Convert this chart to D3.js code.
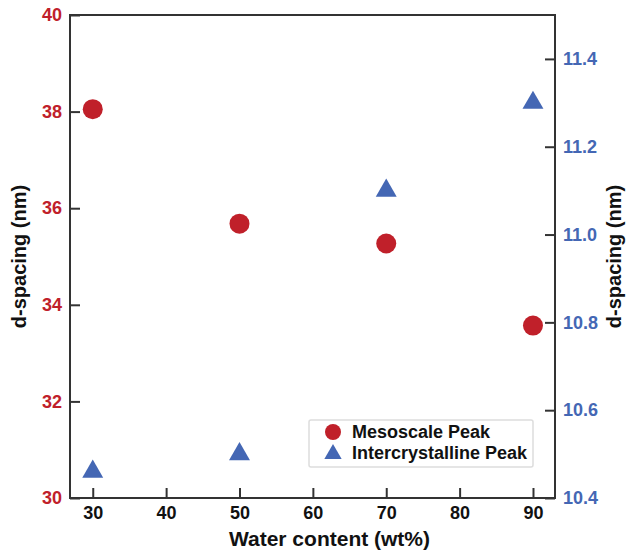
<!DOCTYPE html>
<html>
<head>
<meta charset="utf-8">
<script src="https://cdn.jsdelivr.net/npm/d3@7"></script>
<style>
  body { margin: 0; background: #fff; }
  text { font-family: "Liberation Sans", Arial, sans-serif; font-weight: bold; }
</style>
</head>
<body>
<div id="root"></div>
<script>
// data
const waterContent = [30, 50, 70, 90]
const mesoscale = [38.05, 35.68, 35.27, 33.57]
const intercrystalline = [10.46, 10.50, 11.10, 11.30]
const xTicks = [30, 40, 50, 60, 70, 80, 90]
const leftTicks = [30, 32, 34, 36, 38, 40]
const rightTicks = [10.4, 10.6, 10.8, 11.0, 11.2, 11.4]
const legendItems = ["Mesoscale Peak", "Intercrystalline Peak"]

const w = 627, h = 553
const red = "#c0202a", blue = "#4467b4", axisCol = "#333"
const m = {left: 70, right: 555, top: 15, bottom: 498}

const x = d3.scaleLinear().domain([26.9, 93]).range([m.left, m.right])
const yL = d3.scaleLinear().domain([30, 40]).range([m.bottom, m.top])
const yR = d3.scaleLinear().domain([10.4, 11.5]).range([m.bottom, m.top])

const svg = d3.select("#root").append("svg")
    .attr("width", w)
    .attr("height", h)

// frame
svg.append("rect")
    .attr("x", m.left).attr("y", m.top)
    .attr("width", m.right - m.left).attr("height", m.bottom - m.top)
    .attr("fill", "none").attr("stroke", axisCol).attr("stroke-width", 2)

function styleTicks(g, col) {
    g.select(".domain").remove()
    g.selectAll(".tick line").attr("stroke", axisCol).attr("stroke-width", 2)
    g.selectAll(".tick text").attr("font-size", 18).attr("fill", col)
        .style("font-family", "Liberation Sans, Arial, sans-serif").style("font-weight", "bold")
}

// bottom axis
svg.append("g")
    .attr("transform", `translate(0,${m.bottom})`)
    .call(d3.axisBottom(x).tickValues(xTicks).tickSizeInner(-10).tickSizeOuter(0).tickPadding(8))
    .call(g => styleTicks(g, "#111"))

// left axis
svg.append("g")
    .attr("transform", `translate(${m.left},0)`)
    .call(d3.axisLeft(yL).tickValues(leftTicks).tickSizeInner(-10).tickSizeOuter(0).tickPadding(8))
    .call(g => styleTicks(g, red))

// right axis
svg.append("g")
    .attr("transform", `translate(${m.right},0)`)
    .call(d3.axisRight(yR).tickValues(rightTicks).tickFormat(d3.format(".1f")).tickSizeInner(-10).tickSizeOuter(0).tickPadding(8))
    .call(g => styleTicks(g, blue))

// axis titles
svg.append("text")
    .attr("x", (m.left + m.right) / 2 + 17).attr("y", 546)
    .attr("text-anchor", "middle").attr("font-size", 21).attr("fill", "#111")
    .text("Water content (wt%)")

svg.append("text")
    .attr("transform", `translate(26,${(m.top + m.bottom) / 2}) rotate(-90)`)
    .attr("text-anchor", "middle").attr("font-size", 20).attr("fill", "#111")
    .text("d-spacing (nm)")

svg.append("text")
    .attr("transform", `translate(621,${(m.top + m.bottom) / 2}) rotate(-90)`)
    .attr("text-anchor", "middle").attr("font-size", 20).attr("fill", "#111")
    .text("d-spacing (nm)")

// marks
const tri = d3.symbol().type(d3.symbolTriangle).size(190)

svg.selectAll("circle.meso").data(waterContent).enter().append("circle")
    .attr("class", "meso")
    .attr("cx", d => x(d))
    .attr("cy", (d, i) => yL(mesoscale[i]))
    .attr("r", 10)
    .attr("fill", red)

svg.selectAll("path.inter").data(waterContent).enter().append("path")
    .attr("class", "inter")
    .attr("d", tri)
    .attr("transform", (d, i) => `translate(${x(d)},${yR(intercrystalline[i])})`)
    .attr("fill", blue)

// legend
const legend = svg.append("g").attr("transform", "translate(309,420)")
legend.append("rect")
    .attr("width", 224).attr("height", 47).attr("rx", 2)
    .attr("fill", "#fff").attr("stroke", "#ddd").attr("stroke-width", 1.5)

legendItems.forEach((name, i) => {
    const ly = 12 + i * 21
    if (i === 0) {
        legend.append("circle").attr("cx", 24).attr("cy", ly).attr("r", 8).attr("fill", red)
    } else {
        legend.append("path").attr("d", d3.symbol().type(d3.symbolTriangle).size(130))
            .attr("transform", `translate(24,${ly + 1})`).attr("fill", blue)
    }
    legend.append("text")
        .attr("x", 43).attr("y", ly + 6)
        .attr("font-size", 18).attr("fill", "#111")
        .text(name)
})
</script>
</body>
</html>
